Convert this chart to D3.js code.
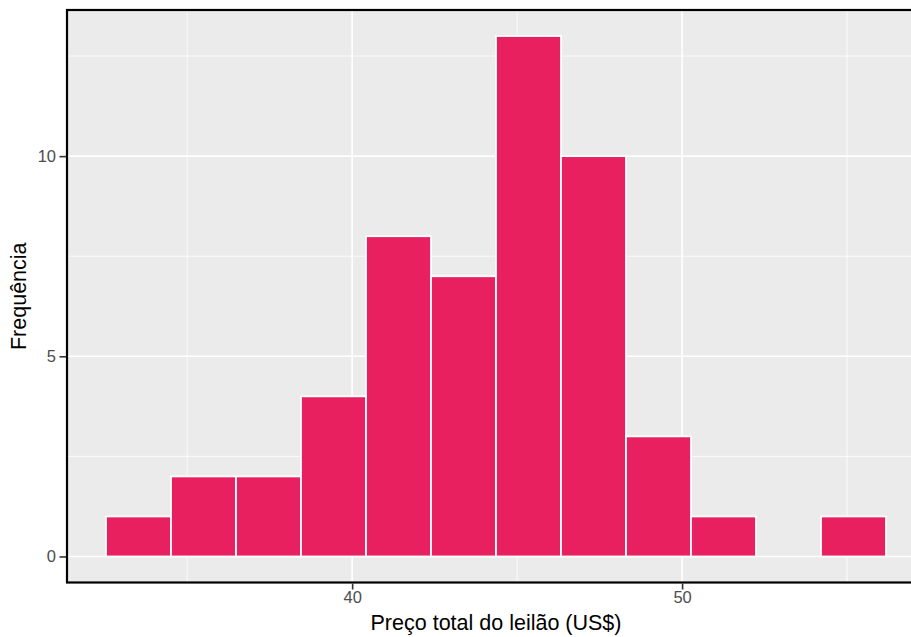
<!DOCTYPE html>
<html>
<head>
<meta charset="utf-8">
<script src="https://cdn.jsdelivr.net/npm/d3@7"></script>
<style>
  html, body { margin: 0; padding: 0; background: #fff; }
  svg { display: block; font-family: "Liberation Sans", Arial, Helvetica, sans-serif; }
</style>
</head>
<body>
<svg id="chart" width="911" height="637"></svg>
<script>
// ---- data ----
const binEdges = [32.54, 34.51, 36.48, 38.45, 40.42, 42.39, 44.36, 46.33, 48.30, 50.27, 52.24, 54.21, 56.18];
const counts   = [1, 2, 2, 4, 8, 7, 13, 10, 3, 1, 0, 1];
const xMajorTicks = [40, 50];
const xMinorTicks = [35, 45, 55];
const yMajorTicks = [0, 5, 10];
const yMinorTicks = [2.5, 7.5, 12.5];
const xTitle = "Preço total do leilão (US$)";
const yTitle = "Frequência";

// ---- layout ----
const W = 911, H = 637;
const panel = { left: 67, right: 925, top: 10, bottom: 582.5 };

const bins = counts.map((c, i) => ({ x0: binEdges[i], x1: binEdges[i + 1], n: c }));

const xMin = binEdges[0], xMax = binEdges[binEdges.length - 1];
const xPad = (xMax - xMin) * 0.05;
const yMax = d3.max(counts), yPad = yMax * 0.05;

const x = d3.scaleLinear().domain([xMin - xPad, xMax + xPad]).range([panel.left, panel.right]);
const y = d3.scaleLinear().domain([-yPad, yMax + yPad]).range([panel.bottom, panel.top]);

const svg = d3.select("#chart");

// panel background
svg.append("rect")
  .attr("x", panel.left).attr("y", panel.top)
  .attr("width", panel.right - panel.left).attr("height", panel.bottom - panel.top)
  .attr("fill", "#EBEBEB");

const grid = svg.append("g");
// minor grid
grid.selectAll(".ymin").data(yMinorTicks).join("line")
  .attr("x1", panel.left).attr("x2", panel.right)
  .attr("y1", d => y(d)).attr("y2", d => y(d))
  .attr("stroke", "#fff").attr("stroke-width", 0.8);
grid.selectAll(".xmin").data(xMinorTicks).join("line")
  .attr("y1", panel.top).attr("y2", panel.bottom)
  .attr("x1", d => x(d)).attr("x2", d => x(d))
  .attr("stroke", "#fff").attr("stroke-width", 0.8);
// major grid
grid.selectAll(".ymaj").data(yMajorTicks).join("line")
  .attr("x1", panel.left).attr("x2", panel.right)
  .attr("y1", d => y(d)).attr("y2", d => y(d))
  .attr("stroke", "#fff").attr("stroke-width", 1.6);
grid.selectAll(".xmaj").data(xMajorTicks).join("line")
  .attr("y1", panel.top).attr("y2", panel.bottom)
  .attr("x1", d => x(d)).attr("x2", d => x(d))
  .attr("stroke", "#fff").attr("stroke-width", 1.6);

// bars
svg.append("g").selectAll("rect").data(bins.filter(b => b.n > 0)).join("rect")
  .attr("x", d => x(d.x0))
  .attr("width", d => x(d.x1) - x(d.x0))
  .attr("y", d => y(d.n))
  .attr("height", d => y(0) - y(d.n))
  .attr("fill", "#E8205F")
  .attr("stroke", "#fff")
  .attr("stroke-width", 1.8);

// panel border (top, left, bottom visible)
svg.append("rect")
  .attr("x", panel.left).attr("y", panel.top)
  .attr("width", panel.right - panel.left).attr("height", panel.bottom - panel.top)
  .attr("fill", "none").attr("stroke", "#000").attr("stroke-width", 2.2);

// axes
const xAxis = d3.axisBottom(x).tickValues(xMajorTicks).tickSize(6).tickPadding(2).tickFormat(d3.format("d"));
const gx = svg.append("g").attr("transform", `translate(0,${panel.bottom + 1})`).call(xAxis);
gx.select(".domain").remove();
gx.selectAll(".tick line").attr("stroke", "#333").attr("stroke-width", 1.6);
gx.selectAll(".tick text").attr("fill", "#4D4D4D").attr("font-size", 16.5)
  .attr("font-family", "Liberation Sans, Arial, sans-serif");

const yAxis = d3.axisLeft(y).tickValues(yMajorTicks).tickSize(6.5).tickPadding(3.5).tickFormat(d3.format("d"));
const gy = svg.append("g").attr("transform", `translate(${panel.left - 1},0)`).call(yAxis);
gy.select(".domain").remove();
gy.selectAll(".tick line").attr("stroke", "#333").attr("stroke-width", 1.6);
gy.selectAll(".tick text").attr("fill", "#4D4D4D").attr("font-size", 16.5)
  .attr("font-family", "Liberation Sans, Arial, sans-serif");

// titles
svg.append("text")
  .attr("x", (panel.left + panel.right) / 2).attr("y", 630)
  .attr("text-anchor", "middle").attr("font-size", 21.5).attr("fill", "#000")
  .text(xTitle);

svg.append("text")
  .attr("transform", `translate(26,${(panel.top + panel.bottom) / 2}) rotate(-90)`)
  .attr("text-anchor", "middle").attr("font-size", 21.5).attr("fill", "#000")
  .text(yTitle);
</script>
</body>
</html>
